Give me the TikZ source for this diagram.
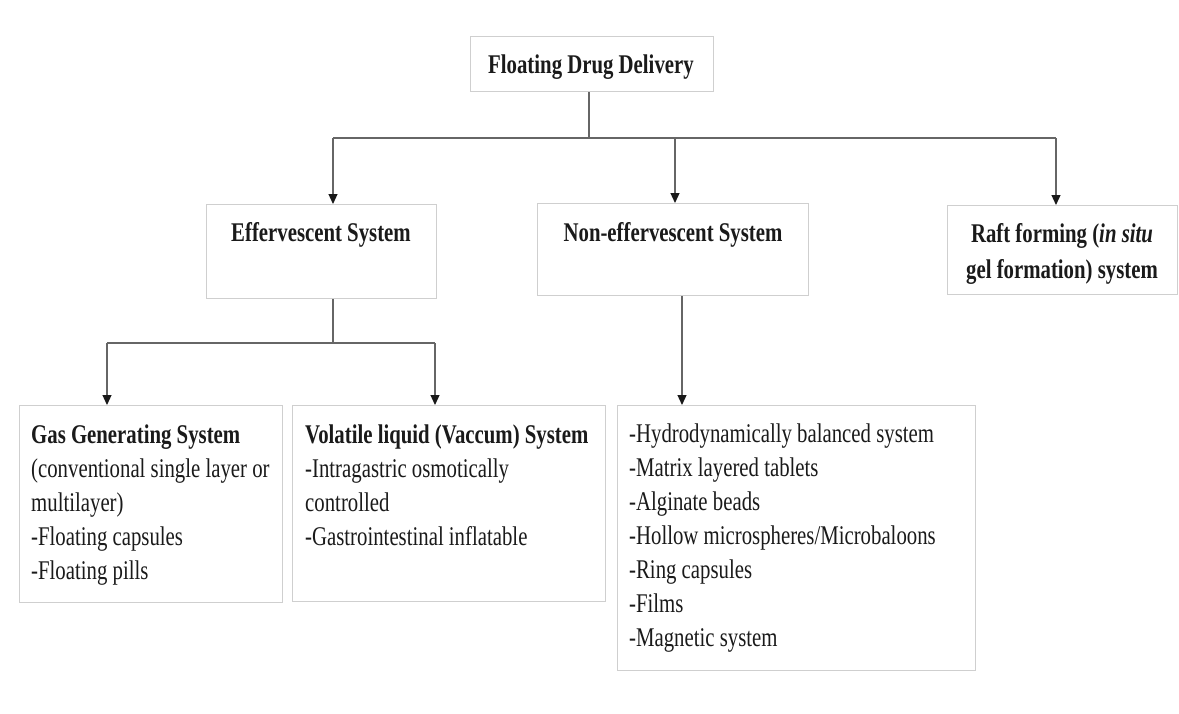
\documentclass[tikz,border=0pt]{standalone}
\usepackage{fontspec}
\setmainfont{Liberation Serif}[FakeStretch=0.77]
\usetikzlibrary{arrows.meta}
\definecolor{boxgray}{HTML}{CFCFCF}
\definecolor{linegray}{HTML}{666666}
\definecolor{txt}{HTML}{1A1A1A}
\begin{document}
\begin{tikzpicture}[x=1pt,y=-1pt,
  box/.style={draw=boxgray,line width=1.4pt,fill=white,inner sep=0pt},
  txtnode/.style={inner sep=0pt,text=txt,font=\fontsize{27}{34}\selectfont},
  conn/.style={draw=linegray,line width=1.2pt},
  arr/.style={conn,-{Triangle[width=9pt,length=10pt,color=black!90]}},
]
\useasboundingbox (0,0) rectangle (1179,713);
% boxes
\node[box,anchor=north west,minimum width=243pt,minimum height=55pt] (top) at (470,36) {};
\node[box,anchor=north west,minimum width=230pt,minimum height=94pt] (eff) at (206,204) {};
\node[box,anchor=north west,minimum width=271pt,minimum height=92pt] (non) at (537,203) {};
\node[box,anchor=north west,minimum width=230pt,minimum height=89pt] (raft) at (947,205) {};
\node[box,anchor=north west,minimum width=263pt,minimum height=197pt] (gas) at (19,405) {};
\node[box,anchor=north west,minimum width=313pt,minimum height=196pt] (vol) at (292,405) {};
\node[box,anchor=north west,minimum width=358pt,minimum height=265pt] (list) at (617,405) {};
% texts
\node[txtnode,anchor=base] (ttop) at (591,73) {\bfseries Floating Drug Delivery};
\node[txtnode,anchor=base] (teff) at (321,241) {\bfseries Effervescent System};
\node[txtnode,anchor=base] (tnon) at (673,241) {\bfseries Non-effervescent System};
\node[txtnode,anchor=north,align=center] (traft) at (1062,218.2) {\strut\bfseries Raft forming (\textit{in situ}\\[2pt] \bfseries gel formation) system};
\node[txtnode,anchor=north west,align=left] (tgas) at (31,419.2) {\strut\textbf{Gas Generating System}\\(conventional single layer or\\multilayer)\\-Floating capsules\\-Floating pills};
\node[txtnode,anchor=north west,align=left] (tvol) at (305,419.2) {\strut\textbf{Volatile liquid (Vaccum) System}\\-Intragastric osmotically\\controlled\\-Gastrointestinal inflatable};
\node[txtnode,anchor=north west,align=left] (tlist) at (629,418.2) {\strut-Hydrodynamically balanced system\\-Matrix layered tablets\\-Alginate beads\\-Hollow microspheres/Microbaloons\\-Ring capsules\\-Films\\-Magnetic system};
% connectors
\coordinate (j0) at (589,138);
\coordinate (jL) at (333,138);
\coordinate (jM) at (675,138);
\coordinate (jR) at (1056,138);
\coordinate (effin) at (333,204);
\coordinate (nonin) at (675,203);
\coordinate (raftin) at (1056,205);
\draw[conn] (top.south -| j0) -- (j0);
\draw[conn] (jL) -- (jR);
\draw[arr] (jL) -- (effin);
\draw[arr] (jM) -- (nonin);
\draw[arr] (jR) -- (raftin);
\coordinate (k0) at (333,343);
\coordinate (kL) at (107,343);
\coordinate (kR) at (435,343);
\coordinate (gasin) at (107,405);
\coordinate (volin) at (435,405);
\draw[conn] (eff.south -| k0) -- (k0);
\draw[conn] (kL) -- (kR);
\draw[arr] (kL) -- (gasin);
\draw[arr] (kR) -- (volin);
\coordinate (n0) at (682,295);
\coordinate (listin) at (682,405);
\draw[arr] (non.south -| n0) -- (listin);
\end{tikzpicture}
\end{document}
